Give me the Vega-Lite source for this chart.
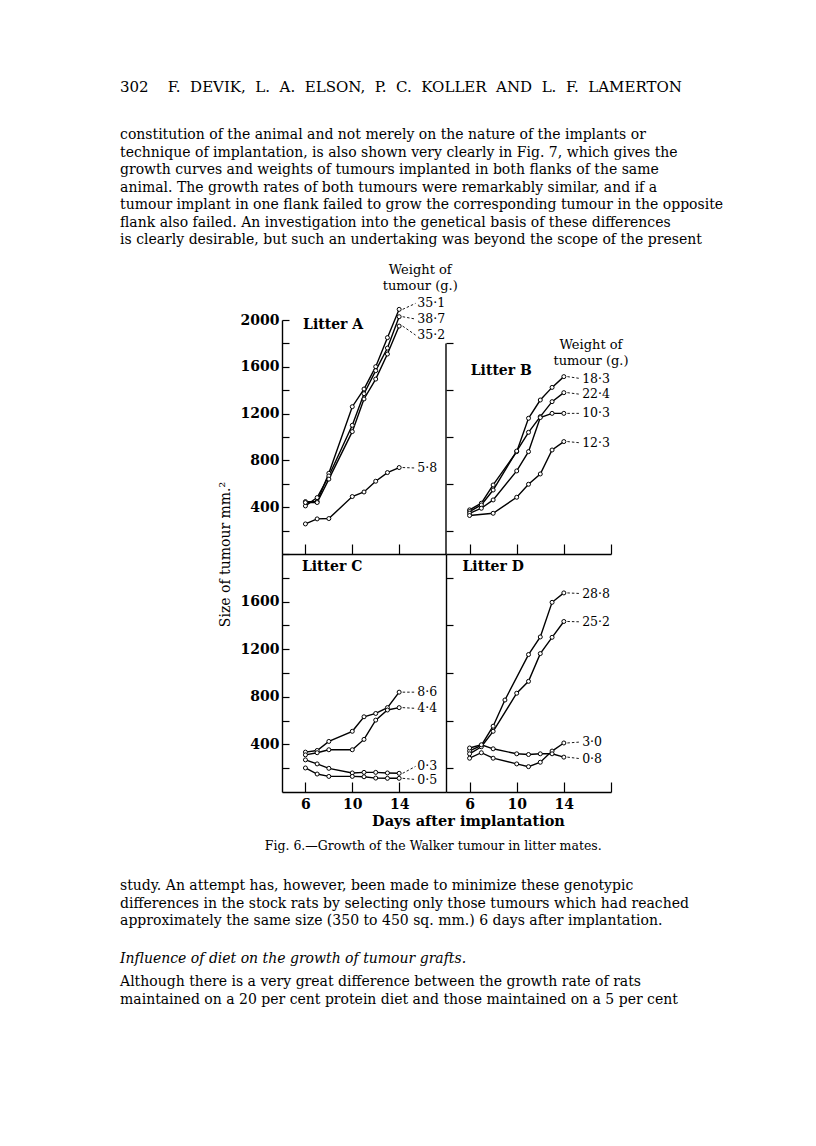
{
  "$schema": "https://vega.github.io/schema/vega-lite/v6.json",
  "background": "white",
  "padding": {"left": 120, "top": 80, "right": 20, "bottom": 20},
  "config": {
    "view": {"stroke": null},
    "font": "DejaVu Serif",
    "axis": {"domainColor": "black", "domainWidth": 1.4, "tickColor": "black", "tickWidth": 1.2, "labelColor": "black", "labelFont": "DejaVu Serif", "labelFontSize": 14, "labelFontWeight": "bold", "labelOverlap": false, "grid": false, "titleColor": "black", "titleFont": "DejaVu Serif", "titleFontWeight": "normal", "titleFontSize": 14.5, "labelAngle": 0},
    "title": {"color": "black", "font": "DejaVu Serif", "fontWeight": "normal", "fontSize": 14, "subtitleColor": "black", "subtitleFont": "DejaVu Serif", "subtitleFontSize": 14, "lineHeight": 17.5, "subtitleLineHeight": 17.5}
  },
  "datasets": {
    "growth": [
      {"litter": "A", "weight": "35·1", "day": 6, "size": 448}, {"litter": "A", "weight": "35·1", "day": 7, "size": 448}, {"litter": "A", "weight": "35·1", "day": 8, "size": 690}, {"litter": "A", "weight": "35·1", "day": 10, "size": 1259}, {"litter": "A", "weight": "35·1", "day": 11, "size": 1410}, {"litter": "A", "weight": "35·1", "day": 12, "size": 1601}, {"litter": "A", "weight": "35·1", "day": 13, "size": 1849}, {"litter": "A", "weight": "35·1", "day": 14, "size": 2091},
      {"litter": "A", "weight": "38·7", "day": 6, "size": 411}, {"litter": "A", "weight": "38·7", "day": 7, "size": 482}, {"litter": "A", "weight": "38·7", "day": 8, "size": 667}, {"litter": "A", "weight": "38·7", "day": 10, "size": 1100}, {"litter": "A", "weight": "38·7", "day": 11, "size": 1370}, {"litter": "A", "weight": "38·7", "day": 12, "size": 1567}, {"litter": "A", "weight": "38·7", "day": 13, "size": 1760}, {"litter": "A", "weight": "38·7", "day": 14, "size": 2028},
      {"litter": "A", "weight": "35·2", "day": 6, "size": 440}, {"litter": "A", "weight": "35·2", "day": 7, "size": 440}, {"litter": "A", "weight": "35·2", "day": 8, "size": 640}, {"litter": "A", "weight": "35·2", "day": 10, "size": 1046}, {"litter": "A", "weight": "35·2", "day": 11, "size": 1325}, {"litter": "A", "weight": "35·2", "day": 12, "size": 1495}, {"litter": "A", "weight": "35·2", "day": 13, "size": 1709}, {"litter": "A", "weight": "35·2", "day": 14, "size": 1948},
      {"litter": "A", "weight": "5·8", "day": 6, "size": 257}, {"litter": "A", "weight": "5·8", "day": 7, "size": 300}, {"litter": "A", "weight": "5·8", "day": 8, "size": 303}, {"litter": "A", "weight": "5·8", "day": 10, "size": 491}, {"litter": "A", "weight": "5·8", "day": 11, "size": 530}, {"litter": "A", "weight": "5·8", "day": 12, "size": 622}, {"litter": "A", "weight": "5·8", "day": 13, "size": 696}, {"litter": "A", "weight": "5·8", "day": 14, "size": 739},
      {"litter": "B", "weight": "18·3", "day": 6, "size": 377}, {"litter": "B", "weight": "18·3", "day": 7, "size": 434}, {"litter": "B", "weight": "18·3", "day": 8, "size": 590}, {"litter": "B", "weight": "18·3", "day": 10, "size": 875}, {"litter": "B", "weight": "18·3", "day": 11, "size": 1160}, {"litter": "B", "weight": "18·3", "day": 12, "size": 1316}, {"litter": "B", "weight": "18·3", "day": 13, "size": 1424}, {"litter": "B", "weight": "18·3", "day": 14, "size": 1516},
      {"litter": "B", "weight": "22·4", "day": 6, "size": 363}, {"litter": "B", "weight": "22·4", "day": 7, "size": 419}, {"litter": "B", "weight": "22·4", "day": 8, "size": 547}, {"litter": "B", "weight": "22·4", "day": 10, "size": 880}, {"litter": "B", "weight": "22·4", "day": 11, "size": 1040}, {"litter": "B", "weight": "22·4", "day": 12, "size": 1174}, {"litter": "B", "weight": "22·4", "day": 13, "size": 1302}, {"litter": "B", "weight": "22·4", "day": 14, "size": 1379},
      {"litter": "B", "weight": "10·3", "day": 6, "size": 348}, {"litter": "B", "weight": "10·3", "day": 7, "size": 391}, {"litter": "B", "weight": "10·3", "day": 8, "size": 462}, {"litter": "B", "weight": "10·3", "day": 10, "size": 710}, {"litter": "B", "weight": "10·3", "day": 11, "size": 875}, {"litter": "B", "weight": "10·3", "day": 12, "size": 1166}, {"litter": "B", "weight": "10·3", "day": 13, "size": 1202}, {"litter": "B", "weight": "10·3", "day": 14, "size": 1202},
      {"litter": "B", "weight": "12·3", "day": 6, "size": 329}, {"litter": "B", "weight": "12·3", "day": 8, "size": 348}, {"litter": "B", "weight": "12·3", "day": 10, "size": 485}, {"litter": "B", "weight": "12·3", "day": 11, "size": 596}, {"litter": "B", "weight": "12·3", "day": 12, "size": 684}, {"litter": "B", "weight": "12·3", "day": 13, "size": 889}, {"litter": "B", "weight": "12·3", "day": 14, "size": 961},
      {"litter": "C", "weight": "8·6", "day": 6, "size": 335}, {"litter": "C", "weight": "8·6", "day": 7, "size": 349}, {"litter": "C", "weight": "8·6", "day": 8, "size": 425}, {"litter": "C", "weight": "8·6", "day": 10, "size": 510}, {"litter": "C", "weight": "8·6", "day": 11, "size": 632}, {"litter": "C", "weight": "8·6", "day": 12, "size": 660}, {"litter": "C", "weight": "8·6", "day": 13, "size": 709}, {"litter": "C", "weight": "8·6", "day": 14, "size": 839},
      {"litter": "C", "weight": "4·4", "day": 6, "size": 312}, {"litter": "C", "weight": "4·4", "day": 7, "size": 330}, {"litter": "C", "weight": "4·4", "day": 8, "size": 355}, {"litter": "C", "weight": "4·4", "day": 10, "size": 355}, {"litter": "C", "weight": "4·4", "day": 11, "size": 442}, {"litter": "C", "weight": "4·4", "day": 12, "size": 604}, {"litter": "C", "weight": "4·4", "day": 13, "size": 689}, {"litter": "C", "weight": "4·4", "day": 14, "size": 709},
      {"litter": "C", "weight": "0·3", "day": 6, "size": 270}, {"litter": "C", "weight": "0·3", "day": 7, "size": 236}, {"litter": "C", "weight": "0·3", "day": 8, "size": 199}, {"litter": "C", "weight": "0·3", "day": 10, "size": 160}, {"litter": "C", "weight": "0·3", "day": 11, "size": 165}, {"litter": "C", "weight": "0·3", "day": 12, "size": 165}, {"litter": "C", "weight": "0·3", "day": 13, "size": 160}, {"litter": "C", "weight": "0·3", "day": 14, "size": 157},
      {"litter": "C", "weight": "0·5", "day": 6, "size": 202}, {"litter": "C", "weight": "0·5", "day": 7, "size": 151}, {"litter": "C", "weight": "0·5", "day": 8, "size": 131}, {"litter": "C", "weight": "0·5", "day": 10, "size": 131}, {"litter": "C", "weight": "0·5", "day": 11, "size": 128}, {"litter": "C", "weight": "0·5", "day": 12, "size": 117}, {"litter": "C", "weight": "0·5", "day": 13, "size": 115}, {"litter": "C", "weight": "0·5", "day": 14, "size": 115},
      {"litter": "D", "weight": "28·8", "day": 6, "size": 346}, {"litter": "D", "weight": "28·8", "day": 7, "size": 391}, {"litter": "D", "weight": "28·8", "day": 8, "size": 553}, {"litter": "D", "weight": "28·8", "day": 9, "size": 773}, {"litter": "D", "weight": "28·8", "day": 11, "size": 1155}, {"litter": "D", "weight": "28·8", "day": 12, "size": 1303}, {"litter": "D", "weight": "28·8", "day": 13, "size": 1594}, {"litter": "D", "weight": "28·8", "day": 14, "size": 1673},
      {"litter": "D", "weight": "25·2", "day": 6, "size": 321}, {"litter": "D", "weight": "25·2", "day": 7, "size": 380}, {"litter": "D", "weight": "25·2", "day": 8, "size": 510}, {"litter": "D", "weight": "25·2", "day": 10, "size": 830}, {"litter": "D", "weight": "25·2", "day": 11, "size": 930}, {"litter": "D", "weight": "25·2", "day": 12, "size": 1163}, {"litter": "D", "weight": "25·2", "day": 13, "size": 1300}, {"litter": "D", "weight": "25·2", "day": 14, "size": 1433},
      {"litter": "D", "weight": "3·0", "day": 6, "size": 284}, {"litter": "D", "weight": "3·0", "day": 7, "size": 330}, {"litter": "D", "weight": "3·0", "day": 8, "size": 284}, {"litter": "D", "weight": "3·0", "day": 10, "size": 236}, {"litter": "D", "weight": "3·0", "day": 11, "size": 213}, {"litter": "D", "weight": "3·0", "day": 12, "size": 250}, {"litter": "D", "weight": "3·0", "day": 13, "size": 344}, {"litter": "D", "weight": "3·0", "day": 14, "size": 412},
      {"litter": "D", "weight": "0·8", "day": 6, "size": 370}, {"litter": "D", "weight": "0·8", "day": 7, "size": 397}, {"litter": "D", "weight": "0·8", "day": 8, "size": 363}, {"litter": "D", "weight": "0·8", "day": 10, "size": 321}, {"litter": "D", "weight": "0·8", "day": 11, "size": 315}, {"litter": "D", "weight": "0·8", "day": 12, "size": 321}, {"litter": "D", "weight": "0·8", "day": 13, "size": 321}, {"litter": "D", "weight": "0·8", "day": 14, "size": 293}
    ],
    "labels": [
      {"litter": "A", "weight": "35·1", "size": 2091, "labelSize": 2142},
      {"litter": "A", "weight": "38·7", "size": 2028, "labelSize": 2008},
      {"litter": "A", "weight": "35·2", "size": 1948, "labelSize": 1871},
      {"litter": "A", "weight": "5·8", "size": 739, "labelSize": 735},
      {"litter": "B", "weight": "18·3", "size": 1516, "labelSize": 1500},
      {"litter": "B", "weight": "22·4", "size": 1379, "labelSize": 1365},
      {"litter": "B", "weight": "10·3", "size": 1202, "labelSize": 1202},
      {"litter": "B", "weight": "12·3", "size": 961, "labelSize": 950},
      {"litter": "C", "weight": "8·6", "size": 839, "labelSize": 839},
      {"litter": "C", "weight": "4·4", "size": 709, "labelSize": 703},
      {"litter": "C", "weight": "0·3", "size": 157, "labelSize": 215},
      {"litter": "C", "weight": "0·5", "size": 115, "labelSize": 105},
      {"litter": "D", "weight": "28·8", "size": 1673, "labelSize": 1668},
      {"litter": "D", "weight": "25·2", "size": 1433, "labelSize": 1430},
      {"litter": "D", "weight": "3·0", "size": 412, "labelSize": 420},
      {"litter": "D", "weight": "0·8", "size": 293, "labelSize": 280}
    ]
  },
  "title": {
    "text": "302\u00a0\u00a0\u00a0\u00a0F.\u00a0\u00a0DEVIK,\u00a0\u00a0L.\u00a0\u00a0A.\u00a0\u00a0ELSON,\u00a0\u00a0P.\u00a0\u00a0C.\u00a0\u00a0KOLLER\u00a0\u00a0AND\u00a0\u00a0L.\u00a0\u00a0F.\u00a0\u00a0LAMERTON",
    "fontSize": 15,
    "subtitle": [
      "constitution of the animal and not merely on the nature of the implants or",
      "technique of implantation, is also shown very clearly in Fig. 7, which gives the",
      "growth curves and weights of tumours implanted in both flanks of the same",
      "animal.  The growth rates of both tumours were remarkably similar, and if a",
      "tumour implant in one flank failed to grow the corresponding tumour in the opposite",
      "flank also failed.  An investigation into the genetical basis of these differences",
      "is clearly desirable, but such an undertaking was beyond the scope of the present"
    ],
    "orient": "top", "anchor": "start", "subtitlePadding": 33, "offset": 17
  },
  "vconcat": [{
    "title": {"text": ["\u00a0\u00a0\u00a0\u00a0Although there is a very great difference between the growth rate of rats", "maintained on a 20 per cent protein diet and those maintained on a 5 per cent"], "orient": "bottom", "anchor": "start", "offset": 9},
    "vconcat": [{
      "title": {"text": "Influence of diet on the growth of tumour grafts.", "orient": "bottom", "anchor": "start", "fontStyle": "italic", "offset": 24},
      "vconcat": [{
        "title": {"text": ["study.  An attempt has, however, been made to minimize these genotypic", "differences in the stock rats by selecting only those tumours which had reached", "approximately the same size (350 to 450 sq. mm.) 6 days after implantation."], "orient": "bottom", "anchor": "start", "dx": -98, "offset": 27},
        "vconcat": [{
          "title": {"text": "Fig. 6.—Growth of the Walker tumour in litter mates.", "orient": "bottom", "anchor": "middle", "dx": 10, "fontSize": 12.5, "offset": 12},
          "columns": 2, "spacing": 0, "bounds": "flush",
          "concat": [
            {
              "width": 164, "height": 234,
              "resolve": {"axis": {"y": "independent"}},
              "layer": [
                {"data": {"name": "growth"}, "transform": [{"filter": "datum.litter === 'A'"}],
                 "mark": {"type": "line", "color": "black", "strokeWidth": 1.4},
                 "encoding": {
                   "x": {"field": "day", "type": "quantitative", "scale": {"domain": [4, 18], "nice": false, "zero": false}, "axis": {"values": [6, 8, 10, 12, 14, 16], "labels": false, "tickSize": -10, "title": null}},
                   "y": {"field": "size", "type": "quantitative", "scale": {"domain": [0, 2000], "nice": false}, "axis": {"orient": "left", "values": [200, 400, 600, 800, 1000, 1200, 1400, 1600, 1800, 2000], "labels": false, "tickSize": -7, "title": null}},
                   "detail": {"field": "weight"}}},
                {"data": {"name": "growth"}, "transform": [{"filter": "datum.litter === 'A'"}],
                 "mark": {"type": "point", "shape": "circle", "filled": true, "fill": "white", "stroke": "black", "strokeWidth": 1, "size": 16, "opacity": 1},
                 "encoding": {"x": {"field": "day", "type": "quantitative"}, "y": {"field": "size", "type": "quantitative", "axis": {"orient": "left", "values": [400, 800, 1200, 1600, 2000], "format": "d", "ticks": false, "domain": false, "labelPadding": 3, "title": null}}}},
                {"data": {"name": "labels"}, "transform": [{"filter": "datum.litter === 'A'"}],
                 "mark": {"type": "rule", "color": "black", "strokeWidth": 0.9, "strokeDash": [2.5, 2]},
                 "encoding": {"x": {"datum": 14.3}, "x2": {"datum": 15.4}, "y": {"field": "size", "type": "quantitative", "axis": null}, "y2": {"field": "labelSize"}}},
                {"data": {"name": "labels"}, "transform": [{"filter": "datum.litter === 'A'"}],
                 "mark": {"type": "text", "align": "left", "baseline": "middle", "fontSize": 12.5, "color": "black"},
                 "encoding": {"x": {"datum": 15.55}, "y": {"field": "labelSize", "type": "quantitative", "axis": null}, "text": {"field": "weight"}}},
                {"data": {"values": [{}]}, "mark": {"type": "text", "align": "left", "baseline": "middle", "fontSize": 14, "fontWeight": "bold", "color": "black"},
                 "encoding": {"x": {"datum": 5.8}, "y": {"datum": 1956, "axis": null}, "text": {"value": "Litter A"}}},
                {"data": {"values": [{}]}, "mark": {"type": "text", "align": "center", "baseline": "middle", "fontSize": 13, "lineHeight": 16, "color": "black"},
                 "encoding": {"x": {"datum": 15.8}, "y": {"datum": 2427, "axis": null}, "text": {"value": ["Weight of", "tumour (g.)"]}}}
              ]
            },
            {
              "width": 165, "height": 234,
              "layer": [
                {"data": {"name": "growth"}, "transform": [{"filter": "datum.litter === 'B'"}],
                 "mark": {"type": "line", "color": "black", "strokeWidth": 1.4},
                 "encoding": {
                   "x": {"field": "day", "type": "quantitative", "scale": {"domain": [4, 18], "nice": false, "zero": false}, "axis": {"values": [6, 8, 10, 12, 14, 16, 18], "labels": false, "tickSize": -10, "title": null}},
                   "y": {"field": "size", "type": "quantitative", "scale": {"domain": [0, 2000], "nice": false}, "axis": {"values": [200, 400, 600, 800, 1000, 1200, 1400, 1600, 1800], "labels": false, "domain": false, "tickSize": -7, "title": null}},
                   "detail": {"field": "weight"}}},
                {"data": {"values": [{}]}, "mark": {"type": "rule", "color": "black", "strokeWidth": 1.4},
                 "encoding": {"x": {"datum": 4}, "y": {"datum": 0}, "y2": {"datum": 1800}}},
                {"data": {"name": "growth"}, "transform": [{"filter": "datum.litter === 'B'"}],
                 "mark": {"type": "point", "shape": "circle", "filled": true, "fill": "white", "stroke": "black", "strokeWidth": 1, "size": 16, "opacity": 1},
                 "encoding": {"x": {"field": "day", "type": "quantitative"}, "y": {"field": "size", "type": "quantitative"}}},
                {"data": {"name": "labels"}, "transform": [{"filter": "datum.litter === 'B'"}],
                 "mark": {"type": "rule", "color": "black", "strokeWidth": 0.9, "strokeDash": [2.5, 2]},
                 "encoding": {"x": {"datum": 14.3}, "x2": {"datum": 15.4}, "y": {"field": "size", "type": "quantitative"}, "y2": {"field": "labelSize"}}},
                {"data": {"name": "labels"}, "transform": [{"filter": "datum.litter === 'B'"}],
                 "mark": {"type": "text", "align": "left", "baseline": "middle", "fontSize": 12.5, "color": "black"},
                 "encoding": {"x": {"datum": 15.55}, "y": {"field": "labelSize", "type": "quantitative"}, "text": {"field": "weight"}}},
                {"data": {"values": [{}]}, "mark": {"type": "text", "align": "left", "baseline": "middle", "fontSize": 14, "fontWeight": "bold", "color": "black"},
                 "encoding": {"x": {"datum": 6.1}, "y": {"datum": 1561}, "text": {"value": "Litter B"}}},
                {"data": {"values": [{}]}, "mark": {"type": "text", "align": "center", "baseline": "middle", "fontSize": 13, "lineHeight": 16, "color": "black"},
                 "encoding": {"x": {"datum": 16.3}, "y": {"datum": 1786}, "text": {"value": ["Weight of", "tumour (g.)"]}}}
              ]
            },
            {
              "width": 164, "height": 238,
              "resolve": {"axis": {"y": "independent"}},
              "layer": [
                {"data": {"name": "growth"}, "transform": [{"filter": "datum.litter === 'C'"}],
                 "mark": {"type": "line", "color": "black", "strokeWidth": 1.4},
                 "encoding": {
                   "x": {"field": "day", "type": "quantitative", "scale": {"domain": [4, 18], "nice": false, "zero": false}, "axis": {"values": [6, 8, 10, 12, 14, 16], "labelExpr": "datum.value === 6 || datum.value === 10 || datum.value === 14 ? datum.label : ''", "tickSize": -10, "labelPadding": 15, "title": null}},
                   "y": {"field": "size", "type": "quantitative", "scale": {"domain": [0, 2000], "nice": false}, "axis": {"orient": "left", "values": [200, 400, 600, 800, 1000, 1200, 1400, 1600, 1800, 2000], "labels": false, "tickSize": -7, "title": null}},
                   "detail": {"field": "weight"}}},
                {"data": {"name": "growth"}, "transform": [{"filter": "datum.litter === 'C'"}],
                 "mark": {"type": "point", "shape": "circle", "filled": true, "fill": "white", "stroke": "black", "strokeWidth": 1, "size": 16, "opacity": 1},
                 "encoding": {"x": {"field": "day", "type": "quantitative"}, "y": {"field": "size", "type": "quantitative", "axis": {"orient": "left", "values": [400, 800, 1200, 1600], "format": "d", "ticks": false, "domain": false, "labelPadding": 3, "title": "Size of tumour mm.²", "titleY": 0, "titlePadding": 8, "titleFontSize": 14}}}},
                {"data": {"name": "labels"}, "transform": [{"filter": "datum.litter === 'C'"}],
                 "mark": {"type": "rule", "color": "black", "strokeWidth": 0.9, "strokeDash": [2.5, 2]},
                 "encoding": {"x": {"datum": 14.3}, "x2": {"datum": 15.4}, "y": {"field": "size", "type": "quantitative", "axis": null}, "y2": {"field": "labelSize"}}},
                {"data": {"name": "labels"}, "transform": [{"filter": "datum.litter === 'C'"}],
                 "mark": {"type": "text", "align": "left", "baseline": "middle", "fontSize": 12.5, "color": "black"},
                 "encoding": {"x": {"datum": 15.55}, "y": {"field": "labelSize", "type": "quantitative", "axis": null}, "text": {"field": "weight"}}},
                {"data": {"values": [{}]}, "mark": {"type": "text", "align": "left", "baseline": "middle", "fontSize": 14, "fontWeight": "bold", "color": "black"},
                 "encoding": {"x": {"datum": 5.7}, "y": {"datum": 1891, "axis": null}, "text": {"value": "Litter C"}}}
              ]
            },
            {
              "width": 165, "height": 238,
              "layer": [
                {"data": {"name": "growth"}, "transform": [{"filter": "datum.litter === 'D'"}],
                 "mark": {"type": "line", "color": "black", "strokeWidth": 1.4},
                 "encoding": {
                   "x": {"field": "day", "type": "quantitative", "scale": {"domain": [4, 18], "nice": false, "zero": false}, "axis": {"values": [6, 8, 10, 12, 14, 16, 18], "labelExpr": "datum.value === 6 || datum.value === 10 || datum.value === 14 ? datum.label : ''", "tickSize": -10, "labelPadding": 15, "title": "Days after implantation", "titleX": 22, "titlePadding": 3, "titleFontWeight": "bold"}},
                   "y": {"field": "size", "type": "quantitative", "scale": {"domain": [0, 2000], "nice": false}, "axis": {"values": [200, 400, 600, 800, 1000, 1200, 1400, 1600, 1800, 2000], "labels": false, "tickSize": -7, "title": null}},
                   "detail": {"field": "weight"}}},
                {"data": {"name": "growth"}, "transform": [{"filter": "datum.litter === 'D'"}],
                 "mark": {"type": "point", "shape": "circle", "filled": true, "fill": "white", "stroke": "black", "strokeWidth": 1, "size": 16, "opacity": 1},
                 "encoding": {"x": {"field": "day", "type": "quantitative"}, "y": {"field": "size", "type": "quantitative"}}},
                {"data": {"name": "labels"}, "transform": [{"filter": "datum.litter === 'D'"}],
                 "mark": {"type": "rule", "color": "black", "strokeWidth": 0.9, "strokeDash": [2.5, 2]},
                 "encoding": {"x": {"datum": 14.3}, "x2": {"datum": 15.4}, "y": {"field": "size", "type": "quantitative"}, "y2": {"field": "labelSize"}}},
                {"data": {"name": "labels"}, "transform": [{"filter": "datum.litter === 'D'"}],
                 "mark": {"type": "text", "align": "left", "baseline": "middle", "fontSize": 12.5, "color": "black"},
                 "encoding": {"x": {"datum": 15.55}, "y": {"field": "labelSize", "type": "quantitative"}, "text": {"field": "weight"}}},
                {"data": {"values": [{}]}, "mark": {"type": "text", "align": "left", "baseline": "middle", "fontSize": 14, "fontWeight": "bold", "color": "black"},
                 "encoding": {"x": {"datum": 5.4}, "y": {"datum": 1891}, "text": {"value": "Litter D"}}}
              ]
            }
          ]
        }]
      }]
    }]
  }]
}
